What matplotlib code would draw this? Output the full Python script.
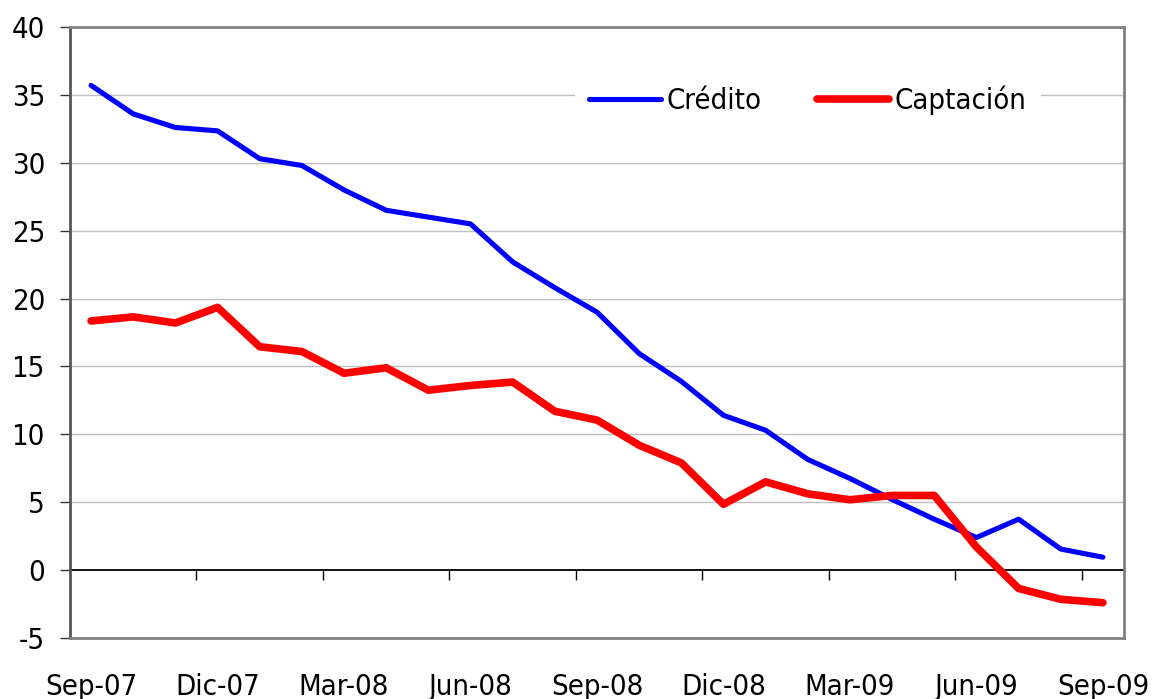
import matplotlib
matplotlib.use("Agg")
import matplotlib.pyplot as plt

months = ["Sep-07", "Oct-07", "Nov-07", "Dic-07", "Ene-08", "Feb-08", "Mar-08",
          "Abr-08", "May-08", "Jun-08", "Jul-08", "Ago-08", "Sep-08", "Oct-08",
          "Nov-08", "Dic-08", "Ene-09", "Feb-09", "Mar-09", "Abr-09", "May-09",
          "Jun-09", "Jul-09", "Ago-09", "Sep-09"]
credito = [35.7, 33.6, 32.6, 32.35, 30.3, 29.8, 28.0, 26.5, 26.0, 25.5, 22.7,
           20.8, 19.0, 15.95, 13.9, 11.4, 10.3, 8.15, 6.75, 5.2, 3.75, 2.4,
           3.75, 1.55, 0.95]
captacion = [18.35, 18.65, 18.2, 19.35, 16.45, 16.1, 14.5, 14.9, 13.25, 13.6,
             13.85, 11.7, 11.05, 9.2, 7.9, 4.85, 6.5, 5.62, 5.18, 5.5, 5.5, 1.7,
             -1.35, -2.15, -2.4]
yticks = [-5, 0, 5, 10, 15, 20, 25, 30, 35, 40]

plt.rcParams['font.family'] = ['DejaVu Sans']
plt.rcParams['font.stretch'] = 'condensed'
FS = 21

fig = plt.figure(figsize=(11.52, 6.99), dpi=100)
ax = fig.add_axes([70/1152, 61/699, 1054/1152, 611/699])

x = list(range(len(months)))
ax.plot(x, credito, color='#0000FF', lw=3.7, solid_capstyle='round',
        solid_joinstyle='round', label='Crédito', zorder=3)
ax.plot(x, captacion, color='#FF0000', lw=5.5, solid_capstyle='round',
        solid_joinstyle='round', label='Captación', zorder=4)

ax.set_xlim(-0.5, len(months) - 0.5)
ax.set_ylim(-5, 40)

# grid
for v in yticks:
    if v not in (-5, 0, 40):
        ax.axhline(v, color='#c0c0c0', lw=1.0, zorder=1)
ax.axhline(0, color='black', lw=1.3, zorder=2)

for s in ax.spines.values():
    s.set_color('#808080')
    s.set_linewidth(2.0)
ax.spines['left'].set_color('#555555')

ax.set_yticks(yticks)
ax.set_yticklabels([str(v) for v in yticks], fontsize=FS)
ax.tick_params(axis='y', direction='out', length=7, width=1, color='#333333', pad=11)

lab_pos = x[::3]
ax.set_xticks(lab_pos)
ax.set_xticklabels(months[::3], fontsize=FS)
ax.tick_params(axis='x', length=0, pad=25)

sec = ax.secondary_xaxis(5/45)
sec.set_xticks([p + 2.5 for p in lab_pos[:-1]])
sec.set_xticklabels([])
sec.tick_params(axis='x', direction='out', length=7, width=1, color='black')
sec.spines['bottom'].set_visible(False)

leg = ax.legend(loc='center', bbox_to_anchor=(0.70, 0.88), ncol=2, fontsize=FS,
                frameon=True, fancybox=False, framealpha=1, edgecolor='none',
                handlelength=2.45, handletextpad=0.2, columnspacing=1.9,
                borderpad=0.5, borderaxespad=0)
leg.get_frame().set_facecolor('white')
leg.set_zorder(5)

fig.savefig('out.png', dpi=100)
